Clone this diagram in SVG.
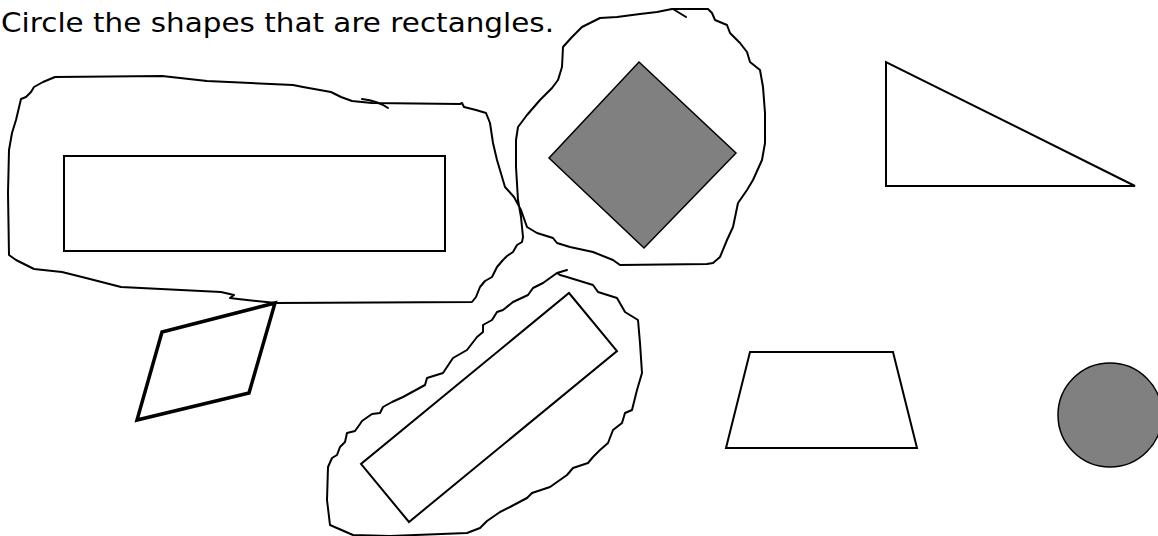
<svg xmlns="http://www.w3.org/2000/svg" width="1158" height="536" viewBox="0 0 1158 536">
<style>
.shape{fill:#fff;stroke:#000;stroke-width:2;stroke-linejoin:miter}
.grey{fill:#808080;stroke:#000;stroke-width:1.5}
.loop{fill:none;stroke:#000;stroke-width:2;stroke-linejoin:round;stroke-linecap:round}
.title{font-family:"DejaVu Sans","Liberation Sans",sans-serif;font-size:27px;fill:#000}
</style>
<rect width="1158" height="536" fill="#fff"/>
<text class="title" x="1" y="32" textLength="553" lengthAdjust="spacingAndGlyphs">Circle the shapes that are rectangles.</text>
<g id="rectangle-wide"><rect class="shape" x="64" y="156" width="381" height="95"/></g>
<g id="square-tilted"><polygon class="grey" points="639,62 736,153 644,248 549,158"/></g>
<g id="triangle"><polygon class="shape" points="886,62 886,186 1135,186"/></g>
<g id="parallelogram"><polygon class="shape" style="stroke-width:3.5" points="162,332 275,303 249,393 137,420"/></g>
<g id="rectangle-tilted"><polygon class="shape" points="569,293 617,351 409,522 361,464"/></g>
<g id="trapezoid"><polygon class="shape" points="750,352 893,352 917,448 726,448"/></g>
<g id="circle"><circle class="grey" cx="1110" cy="415" r="52"/></g>
<g id="loops">
<path class="loop" d="M464,107 L476,110 L486,113 L490,123 L493,143 L497,160 L505,187 L514,197 L521,210 L527,227 L537,233 L553,238 L557,243 L570,247 L593,252 L613,260 L620,265 L707,264 L713,263 L720,257 L727,240 L733,227 L738,203 L747,190 L753,180 L762,160 L765,143 L765,113 L763,87 L760,70 L755,66 L750,62 L747,52 L740,43 L730,33 L727,25 L715,20 L712,13 L708,9 L672,9 L657,12 L640,14 L617,17 L600,18 L582,27 L572,37 L563,47 L562,67 L558,80 L552,88 L540,100 L527,115 L518,127 L516,140 L516,167 L518,200 L521,217 L523,237 L522,242 L517,245 L513,252 L507,256 L503,260 L497,267 L492,277 L485,281 L480,287 L476,297 L472,302 L276,303 L238,299 L230,298 L234,295 L221,292 L121,287 L86,278 L62,272 L34,269 L16,260 L9,255 L8,193 L9,150 L12,133 L16,120 L21,99 L26,97 L31,92 L34,87 L43,82 L55,77 L162,76 L207,81 L293,85 L303,87 L331,92 L341,97 L352,101 L372,103 L460,104 L462,103 L464,107"/>
<path class="loop" d="M362,99 Q378,101 388,108"/>
<path class="loop" d="M673,9 L686,17"/>
<path class="loop" d="M557,273 L560,275 L567,277 L593,285 L598,292 L617,298 L625,312 L638,320 L640,343 L642,373 L637,390 L632,410 L625,413 L622,423 L613,430 L608,443 L600,450 L593,457 L588,463 L573,468 L567,475 L550,487 L532,493 L527,498 L510,507 L500,512 L487,521 L480,528 L467,533 L390,536 L353,535 L330,525 L327,500 L328,467 L332,458 L337,455 L340,447 L345,442 L347,433 L355,431 L360,424 L362,421 L372,414 L380,413 L383,407 L392,402 L403,397 L425,385 L427,378 L443,373 L453,358 L467,350 L477,337 L483,332 L483,325 L492,320 L497,312 L503,310 L513,302 L528,295 L533,288 L543,283 L557,273 L567,270"/>
</g>
</svg>
